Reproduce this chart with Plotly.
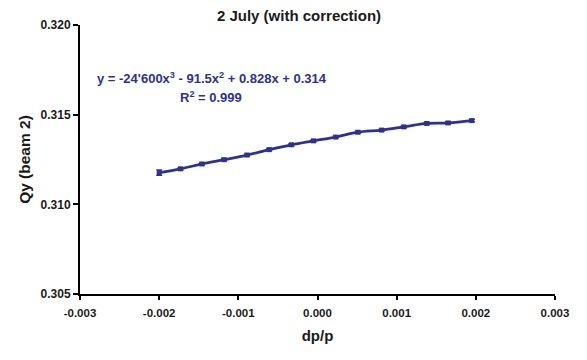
import plotly.graph_objects as go

dp_p = [-0.00200, -0.00173, -0.00146, -0.00118, -0.00089, -0.00061, -0.00033, -0.00005,
        0.00023, 0.00051, 0.00081, 0.00109, 0.00138, 0.00165, 0.00195]
qy = [0.31177, 0.31198, 0.31225, 0.31249, 0.31275, 0.31305, 0.31332, 0.31354,
      0.31375, 0.31402, 0.31414, 0.31432, 0.31451, 0.31454, 0.31467]
qy_err = [0.00015, 0.00007, 0.00007, 0.00007, 0.00007, 0.00007, 0.00007, 0.00007,
          0.00007, 0.00007, 0.00007, 0.00007, 0.00007, 0.00007, 0.00007]
x_ticks = [-0.003, -0.002, -0.001, 0.0, 0.001, 0.002, 0.003]
y_ticks = [0.305, 0.310, 0.315, 0.320]

navy = "#2e3192"
ink = "#1a1a1a"
font = "Liberation Sans, Arial, sans-serif"

# figure + default 8px body margin on every side = 587x360 page
W, H = 571, 344

fig = go.Figure()
fig.add_trace(go.Scatter(
    x=dp_p, y=qy, mode="lines+markers",
    line=dict(color=navy, width=2.8, shape="spline"),
    marker=dict(color=navy, size=5, symbol="square"),
    error_y=dict(type="data", array=qy_err, color=navy, thickness=1.2, width=3),
    showlegend=False,
))

fig.update_layout(
    width=W, height=H,
    margin=dict(l=72, r=10, t=15, b=44),
    paper_bgcolor="white", plot_bgcolor="white",
    font=dict(family=font, color="black"),
    title=dict(text="<b>2 July (with correction)</b>", x=291 / W, xanchor="center",
               y=1 - 8 / H, yanchor="middle", font=dict(size=15, color=ink)),
    xaxis=dict(range=[-0.003, 0.003], tickvals=x_ticks,
               ticktext=[f"<b>{v:.3f}</b>" for v in x_ticks],
               ticks="outside", ticklen=4, tickwidth=1.5, tickcolor="black",
               ticklabelstandoff=3, ticklabeloverflow="allow",
               showline=True, linecolor="black", linewidth=2, showgrid=False, zeroline=False,
               tickfont=dict(size=11.5, color=ink),
               title=dict(text="<b>dp/p</b>", font=dict(size=15, color=ink), standoff=13)),
    yaxis=dict(range=[0.305, 0.320], tickvals=y_ticks,
               ticktext=[f"<b>{v:.3f}</b>" for v in y_ticks],
               ticks="outside", ticklen=5, tickwidth=1.5, tickcolor="black",
               showline=True, linecolor="black", linewidth=2, showgrid=False, zeroline=False,
               tickfont=dict(size=12, color=ink),
               title=dict(text="<b>Qy (beam 2)</b>", font=dict(size=15.5, color=ink), standoff=6)),
)

fig.add_annotation(
    text="<b>y = -24'600x<sup>3</sup> - 91.5x<sup>2</sup> + 0.828x + 0.314</b>",
    xref="paper", yref="paper", x=(216 - 80) / 489, y=(308 - 79) / 285,
    showarrow=False, font=dict(size=13, color=navy), xanchor="center", yanchor="middle")
fig.add_annotation(
    text="<b>R<sup>2</sup> = 0.999</b>",
    xref="paper", yref="paper", x=(215 - 80) / 489, y=(308 - 99) / 285,
    showarrow=False, font=dict(size=13, color=navy), xanchor="center", yanchor="middle")

fig.write_html(
    "out.html",
    config={"displayModeBar": False},
    post_script="document.querySelectorAll('.main-svg').forEach(function(s){s.style.overflow='visible';});",
)
